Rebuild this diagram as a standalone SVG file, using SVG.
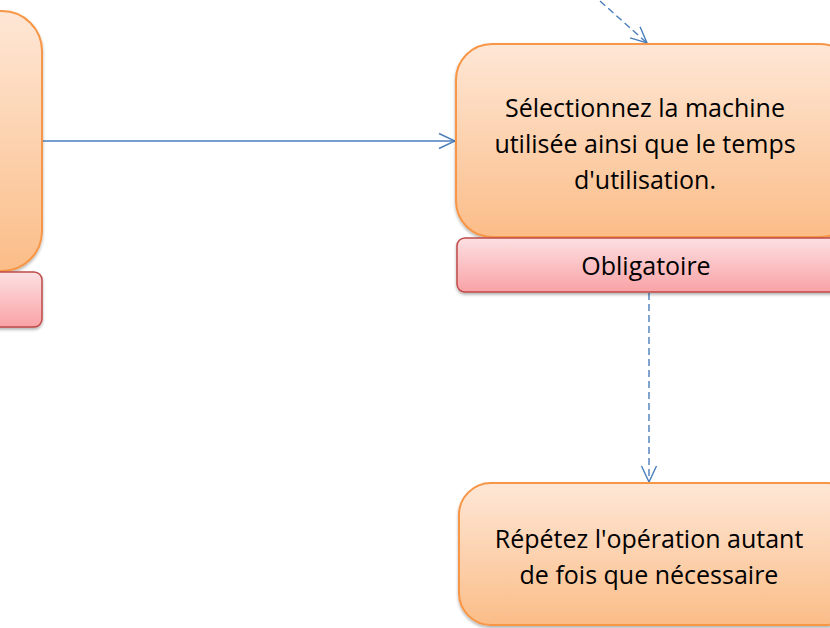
<svg xmlns="http://www.w3.org/2000/svg" width="830" height="628" viewBox="0 0 830 628">
<defs>
<linearGradient id="og" x1="0" y1="0" x2="0" y2="1"><stop offset="0" stop-color="#fee7d6"/><stop offset="1" stop-color="#fbbd88"/></linearGradient>
<linearGradient id="pg" x1="0" y1="0" x2="0" y2="1"><stop offset="0" stop-color="#fde0e2"/><stop offset="1" stop-color="#f9a2a6"/></linearGradient>
<filter id="sh" x="-10%" y="-10%" width="120%" height="130%"><feDropShadow dx="0" dy="2" stdDeviation="1.5" flood-color="#000" flood-opacity="0.3"/></filter>
<marker id="ah" viewBox="0 0 18 18" refX="17" refY="9" markerWidth="18" markerHeight="18" markerUnits="userSpaceOnUse" orient="auto"><path d="M1,1.5 L17,9 L1,16.5" fill="none" stroke="#4a7ebb" stroke-width="1.4"/></marker>
<style>
.node{fill:url(#og);stroke:#f79646;stroke-width:2;filter:url(#sh)}
.badge{fill:url(#pg);stroke:#be4b48;stroke-width:1.5;filter:url(#sh)}
.t{font-family:"Open Sans","Liberation Sans",sans-serif;font-size:25px;fill:#000;text-anchor:middle}
.c{fill:none;stroke:#4a7ebb;stroke-width:1.4}
.d{stroke-dasharray:7,4}
</style>
</defs>
<g id="connectors">
<path class="c" d="M42,141 L455,141" marker-end="url(#ah)"/>
<path class="c d" d="M600,1 L647,43" marker-end="url(#ah)"/>
<path class="c d" d="M649,293 L649,482" marker-end="url(#ah)"/>
</g>
<g id="node-left">
<rect class="node" x="-60" y="11" width="102" height="260" rx="40"/>
</g>
<g id="badge-left">
<rect class="badge" x="-30" y="272" width="72" height="55" rx="8"/>
</g>
<g id="node-main">
<rect class="node" x="456" y="44" width="400" height="193" rx="36"/>
<text class="t" x="645" y="117">Sélectionnez la machine</text>
<text class="t" x="645" y="153">utilisée ainsi que le temps</text>
<text class="t" x="645" y="189">d'utilisation.</text>
</g>
<g id="badge-main">
<rect class="badge" x="457" y="238" width="400" height="54" rx="8"/>
<text class="t" x="646" y="275">Obligatoire</text>
</g>
<g id="node-bottom">
<rect class="node" x="459" y="483" width="400" height="142" rx="32"/>
<text class="t" x="649" y="548">Répétez l'opération autant</text>
<text class="t" x="649" y="584">de fois que nécessaire</text>
</g>
</svg>
